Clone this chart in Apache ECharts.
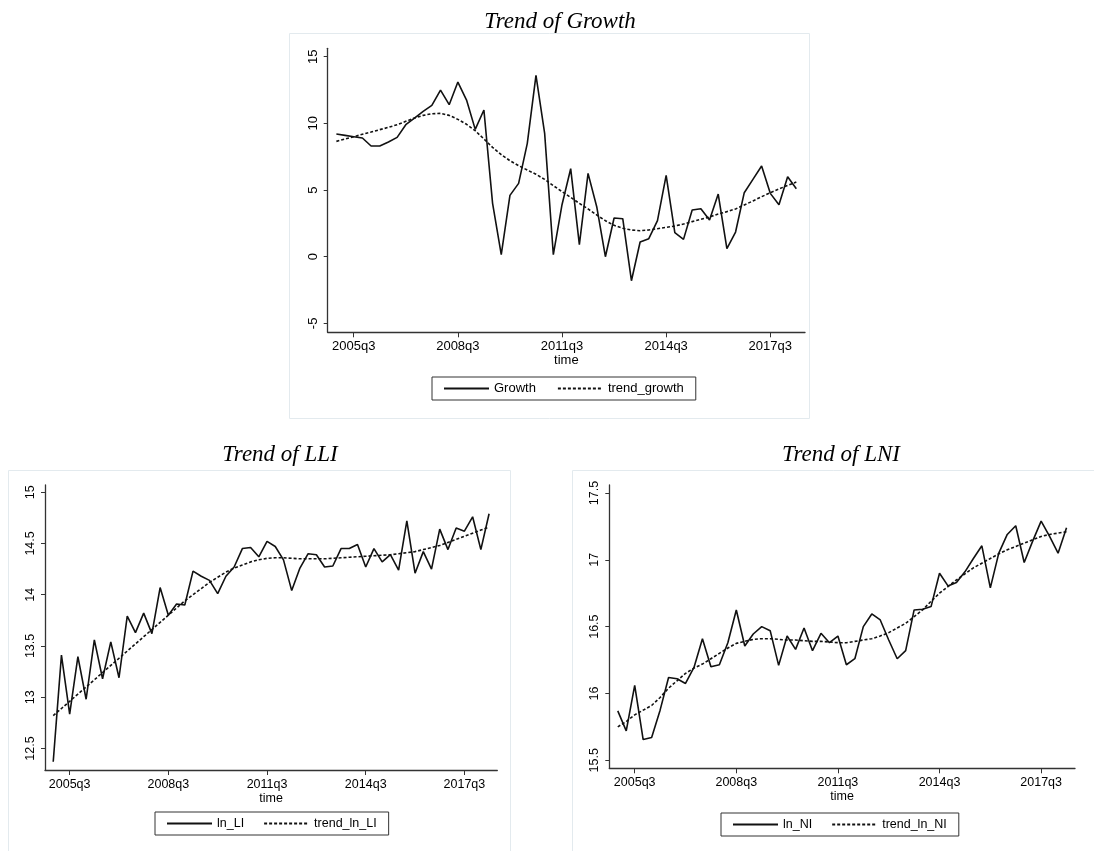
<!DOCTYPE html>
<html>
<head>
<meta charset="utf-8">
<script src="https://cdn.jsdelivr.net/npm/echarts@6/dist/echarts.min.js"></script>
<style>
  html, body { margin: 0; padding: 0; background: #fff; }
  #chart { width: 1094px; height: 851px; }
</style>
</head>
<body>
<div id="chart"></div>
<script>
// Quarterly observations, 2005q1 .. 2018q2
const quarters = [];
for (let y = 2005; y <= 2018; y++) {
  for (let q = 1; q <= 4; q++) {
    if (y === 2018 && q > 2) break;
    quarters.push(y + 'q' + q);
  }
}
const xTickLabels = ['2005q3', '2008q3', '2011q3', '2014q3', '2017q3'];

const growth = [9.2, 9.1, 9.0, 8.9, 8.3, 8.3, 8.6, 8.95, 9.9, 10.4, 10.9, 11.35, 12.5, 11.4, 13.1, 11.75,
  9.55, 11.0, 4.0, 0.15, 4.6, 5.5, 8.5, 13.6, 9.25, 0.15, 3.9, 6.6, 0.9, 6.25, 3.75, 0.0,
  2.9, 2.85, -1.8, 1.1, 1.35, 2.7, 6.1, 1.8, 1.3, 3.5, 3.6, 2.75, 4.7, 0.6, 1.85, 4.8,
  5.8, 6.8, 4.75, 3.9, 6.0, 5.1];
const trendGrowth = [8.65, 8.83, 9.0, 9.18, 9.35, 9.53, 9.7, 9.9, 10.15, 10.4, 10.6, 10.72, 10.75, 10.6, 10.3, 9.93,
  9.45, 8.83, 8.2, 7.65, 7.2, 6.83, 6.5, 6.18, 5.8, 5.33, 4.88, 4.45, 4.0, 3.58, 3.13, 2.7,
  2.35, 2.13, 2.0, 1.95, 2.0, 2.1, 2.2, 2.3, 2.45, 2.63, 2.8, 2.98, 3.2, 3.38, 3.58, 3.88,
  4.18, 4.5, 4.8, 5.08, 5.35, 5.6];

const lnLI = [12.37, 13.41, 12.835, 13.395, 12.98, 13.56, 13.18, 13.54, 13.19, 13.79, 13.63, 13.82, 13.62, 14.07, 13.80, 13.91,
  13.90, 14.23, 14.18, 14.14, 14.01, 14.18, 14.27, 14.45, 14.46, 14.37, 14.52, 14.47, 14.34, 14.04, 14.26, 14.40,
  14.39, 14.27, 14.28, 14.45, 14.45, 14.49, 14.27, 14.45, 14.32, 14.39, 14.24, 14.72, 14.21, 14.42, 14.25, 14.64,
  14.44, 14.65, 14.62, 14.76, 14.44, 14.79];
const trendLnLI = [12.82, 12.89, 12.96, 13.03, 13.10, 13.17, 13.24, 13.31, 13.38, 13.45, 13.52, 13.59, 13.66, 13.73, 13.80, 13.87,
  13.94, 14.00, 14.06, 14.12, 14.17, 14.22, 14.26, 14.29, 14.32, 14.34, 14.355, 14.36, 14.36, 14.355, 14.35, 14.35,
  14.35, 14.35, 14.355, 14.36, 14.365, 14.37, 14.375, 14.38, 14.385, 14.39, 14.40, 14.41, 14.42, 14.44, 14.46, 14.48,
  14.51, 14.54, 14.57, 14.60, 14.63, 14.66];

const lnNI = [15.87, 15.72, 16.06, 15.655, 15.67, 15.875, 16.12, 16.11, 16.075, 16.195, 16.41, 16.20, 16.215, 16.38, 16.625, 16.355,
  16.445, 16.50, 16.47, 16.21, 16.43, 16.33, 16.49, 16.32, 16.45, 16.38, 16.43, 16.215, 16.26, 16.50, 16.595, 16.55,
  16.40, 16.26, 16.32, 16.625, 16.63, 16.65, 16.90, 16.805, 16.83, 16.91, 17.01, 17.105, 16.79, 17.05, 17.19, 17.255,
  16.98, 17.14, 17.29, 17.175, 17.05, 17.24];
const trendLnNI = [15.75, 15.79, 15.84, 15.875, 15.91, 15.97, 16.04, 16.095, 16.15, 16.19, 16.22, 16.26, 16.30, 16.34, 16.375, 16.39,
  16.405, 16.41, 16.41, 16.405, 16.40, 16.40, 16.395, 16.39, 16.39, 16.385, 16.38, 16.38, 16.39, 16.40, 16.41, 16.43,
  16.455, 16.49, 16.525, 16.575, 16.625, 16.69, 16.75, 16.80, 16.85, 16.895, 16.94, 16.975, 17.01, 17.045, 17.075, 17.10,
  17.125, 17.15, 17.175, 17.19, 17.20, 17.21];

const yTicksGrowth = [-5, 0, 5, 10, 15];
const yTicksLLI = [12.5, 13, 13.5, 14, 14.5, 15];
const yTicksLNI = [15.5, 16, 16.5, 17, 17.5];

const SANS = 'Liberation Sans, Arial, sans-serif';
const SERIF = 'Liberation Serif, Times New Roman, serif';
const INK = '#111';

const xTickIdx = xTickLabels.map(l => quarters.indexOf(l));
const pairs = arr => arr.map((v, i) => [i, v]);

function xAxisFor(gi, fs) {
  return {
    gridIndex: gi, type: 'value', min: -1, max: 54,
    name: 'time', nameLocation: 'middle', nameGap: 22,
    nameTextStyle: { fontFamily: SANS, fontSize: fs, color: '#000' },
    axisLine: { show: true, onZero: false, lineStyle: { color: '#333', width: 1.3 } },
    axisTick: { show: true, length: 5, customValues: xTickIdx, lineStyle: { color: '#333' } },
    axisLabel: { customValues: xTickIdx, margin: 8, fontFamily: SANS, fontSize: fs, color: '#000',
      formatter: v => quarters[Math.round(v)] },
    splitLine: { show: false }
  };
}
function yAxisFor(gi, min, max, ticks, fs) {
  return {
    gridIndex: gi, type: 'value', min: min, max: max,
    axisLine: { show: true, onZero: false, lineStyle: { color: '#333', width: 1.3 } },
    axisTick: { show: true, length: 4, customValues: ticks, lineStyle: { color: '#333' } },
    axisLabel: { customValues: ticks, rotate: 90, margin: 8, fontFamily: SANS, fontSize: fs, color: '#000',
      formatter: v => String(Math.round(v * 10) / 10) },
    splitLine: { show: false }
  };
}
function legendFor(left, top, names, gap, fs) {
  return {
    left: left, top: top, data: names,
    itemWidth: 45, itemHeight: 12, itemGap: gap,
    padding: [5, 12, 5, 11],
    borderColor: '#333', borderWidth: 1, borderRadius: 0,
    itemStyle: { opacity: 0 },
    textStyle: { fontFamily: SANS, fontSize: fs, color: '#000' },
    selectedMode: false
  };
}
function solid(name, gi, data) {
  return { name: name, type: 'line', xAxisIndex: gi, yAxisIndex: gi, data: pairs(data),
    symbol: 'none', lineStyle: { color: INK, width: 1.6 }, itemStyle: { color: INK } };
}
function dotted(name, gi, data) {
  return { name: name, type: 'line', xAxisIndex: gi, yAxisIndex: gi, data: pairs(data),
    symbol: 'none', lineStyle: { color: INK, width: 1.6, type: [3, 2] }, itemStyle: { color: INK } };
}

const titleStyle = { fontFamily: SERIF, fontStyle: 'italic', fontWeight: 'normal', fontSize: 23, color: '#000' };

const chart = echarts.init(document.getElementById('chart'), null, { renderer: 'canvas' });
chart.setOption({
  animation: false,
  backgroundColor: '#fff',
  title: [
    { text: 'Trend of Growth', left: 555, top: 5, textAlign: 'center', textStyle: titleStyle },
    { text: 'Trend of LLI', left: 275, top: 438, textAlign: 'center', textStyle: titleStyle },
    { text: 'Trend of LNI', left: 836, top: 438, textAlign: 'center', textStyle: titleStyle }
  ],
  graphic: [
    { type: 'rect', shape: { x: 289.5, y: 33.5, width: 520, height: 385 }, style: { fill: 'none', stroke: '#e3eaee', lineWidth: 1 }, silent: true },
    { type: 'rect', shape: { x: 8.5, y: 470.5, width: 502, height: 390 }, style: { fill: 'none', stroke: '#e3eaee', lineWidth: 1 }, silent: true },
    { type: 'rect', shape: { x: 572.5, y: 470.5, width: 540, height: 390 }, style: { fill: 'none', stroke: '#e3eaee', lineWidth: 1 }, silent: true }
  ],
  grid: [
    { left: 327.7, top: 48.3, width: 477.3, height: 284 },
    { left: 45, top: 485, width: 452.3, height: 285 },
    { left: 609.3, top: 485, width: 465.7, height: 283.3 }
  ],
  xAxis: [xAxisFor(0, 13), xAxisFor(1, 12.5), xAxisFor(2, 12.5)],
  yAxis: [
    yAxisFor(0, -5.67, 15.63, yTicksGrowth, 13),
    yAxisFor(1, 12.29, 15.07, yTicksLLI, 12.5),
    yAxisFor(2, 15.44, 17.56, yTicksLNI, 12.5)
  ],
  legend: [
    legendFor(432, 377, ['Growth', 'trend_growth'], 21, 13),
    legendFor(155, 812, ['ln_LI', 'trend_ln_LI'], 19, 12.5),
    legendFor(721, 813, ['ln_NI', 'trend_ln_NI'], 19, 12.5)
  ],
  series: [
    solid('Growth', 0, growth),
    dotted('trend_growth', 0, trendGrowth),
    solid('ln_LI', 1, lnLI),
    dotted('trend_ln_LI', 1, trendLnLI),
    solid('ln_NI', 2, lnNI),
    dotted('trend_ln_NI', 2, trendLnNI)
  ]
});
</script>
</body>
</html>
